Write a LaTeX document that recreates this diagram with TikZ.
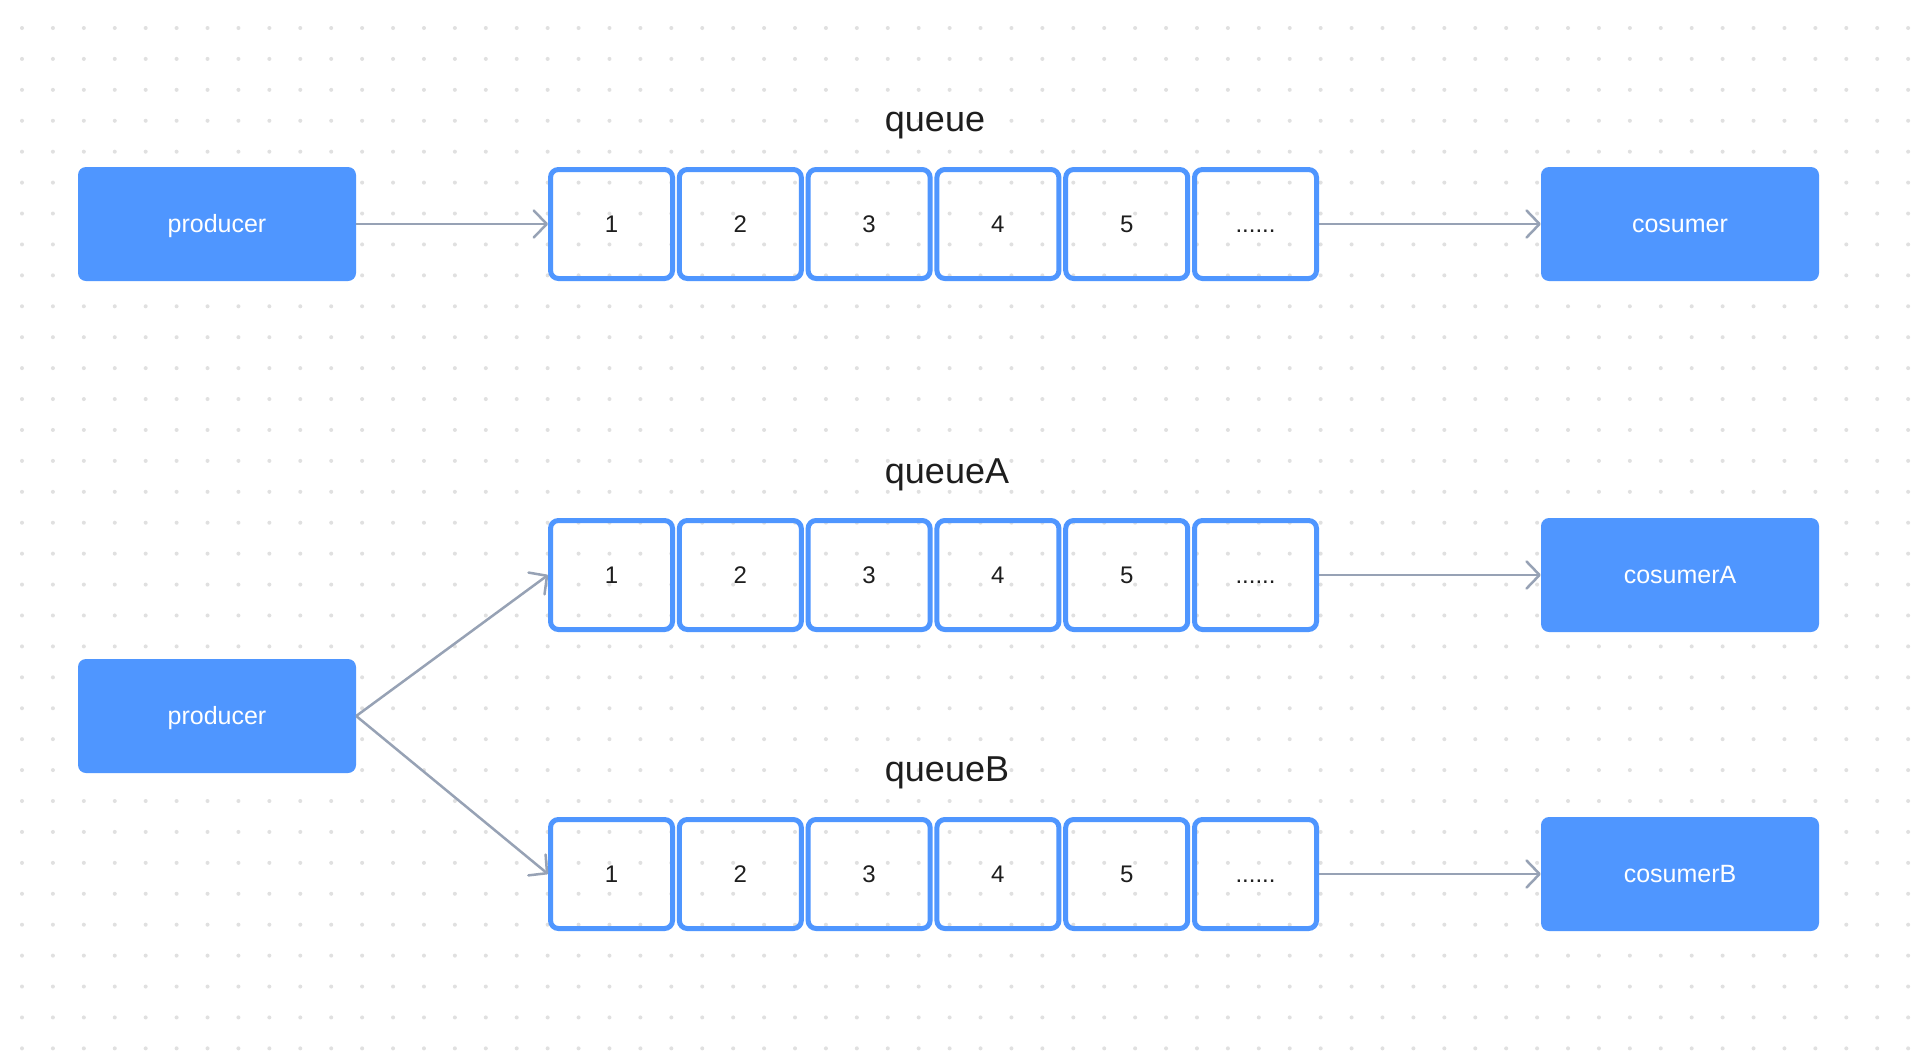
\documentclass[tikz,border=0pt]{standalone}
\usepackage{fontspec}
\setmainfont{Liberation Sans}
\usetikzlibrary{arrows.meta}
\definecolor{qblue}{HTML}{4F96FF}
\definecolor{arr}{HTML}{97A2B5}
\definecolor{dotc}{HTML}{E0E0E0}
\definecolor{txt}{HTML}{1E1E1E}
\newcommand\qdots{......}
\begin{document}
\begin{tikzpicture}[x=1pt,y=-1pt,
  solidbox/.style={fill=qblue, draw=none, rounded corners=8pt, minimum width=278pt, minimum height=114pt, inner sep=0pt, text=white, text height=17pt, text depth=0pt, font=\fontsize{25}{30}\selectfont},
  cell/.style={draw=qblue, line width=5pt, rounded corners=8pt, minimum width=122pt, minimum height=109pt, inner sep=0pt, text=txt, text height=17pt, text depth=0pt, font=\fontsize{24}{28}\selectfont},
  qlabel/.style={anchor=base, text=txt, font=\fontsize{36}{40}\selectfont, inner sep=0pt},
  link/.style={draw=arr, line width=2.5pt, -{Straight Barb[length=13pt,width=27pt,round]}}]
\fill[white] (0,0) rectangle (1924,1058);
\useasboundingbox (0,0) rectangle (1924,1058);
\foreach \i in {0,...,61}
  \foreach \j in {0,...,33}
    \fill[dotc] (22+30.92*\i, 28+30.92*\j) circle (2pt);
% labels
\node[qlabel] (lq) at (935,131.7) {queue};
\node[qlabel] (lqa) at (947,483) {queueA};
\node[qlabel] (lqb) at (947,781.7) {queueB};
% producers and consumers
\node[solidbox] (p1) at (217,224) {producer};
\node[solidbox] (p2) at (217,716) {producer};
\node[solidbox] (c1) at (1680,224) {cosumer};
\node[solidbox] (c2) at (1680,575) {cosumerA};
\node[solidbox] (c3) at (1680,874) {cosumerB};
% cells
\foreach \t [count=\k] in {1,2,3,4,5,\qdots} {
  \node[cell] (a\k) at (611.5+128.8*\k-128.8,224) {\t};
  \node[cell] (b\k) at (611.5+128.8*\k-128.8,575) {\t};
  \node[cell] (d\k) at (611.5+128.8*\k-128.8,874) {\t};
}
% connectors
\draw[link] (p1.east) -- (a1.west);
\draw[link] (a6.east) -- (c1.west);
\draw[link] (p2.east) -- (b1.west);
\draw[link] (p2.east) -- (d1.west);
\draw[link] (b6.east) -- (c2.west);
\draw[link] (d6.east) -- (c3.west);
\end{tikzpicture}
\end{document}
